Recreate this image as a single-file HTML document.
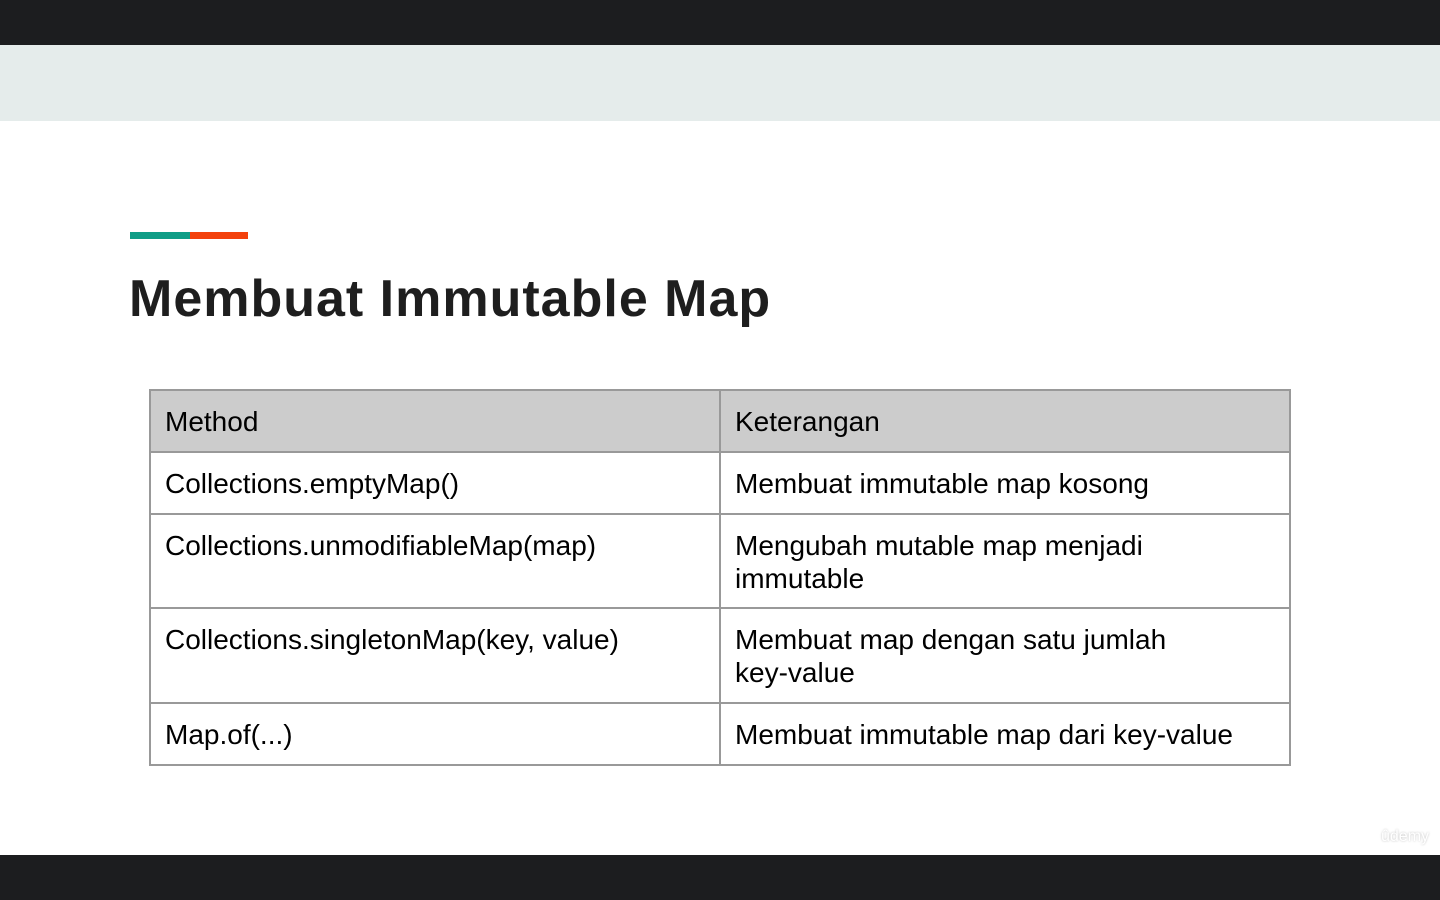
<!DOCTYPE html>
<html><head><style>
body{margin:0;width:1440px;height:900px;position:relative;background:#fff;font-family:"Liberation Sans",sans-serif;overflow:hidden}
.b{position:absolute;left:0;width:1440px}
.t{position:absolute;font-size:28px;color:#000;line-height:33px}
.h{position:absolute;background:#999}
</style></head><body>
<div class="b" style="top:0;height:45px;background:#1c1d1f"></div>
<div class="b" style="top:45px;height:76px;background:#e5eceb"></div>
<div class="b" style="top:855px;height:45px;background:#1c1d1f"></div>
<div style="position:absolute;left:130px;top:232px;width:60px;height:7px;background:#0f9d86"></div>
<div style="position:absolute;left:190px;top:232px;width:58px;height:7px;background:#f3410c"></div>
<div style="position:absolute;left:129px;top:269px;font-size:52px;font-weight:bold;color:#1e1e1e;letter-spacing:1px">Membuat Immutable Map</div>
<div style="position:absolute;left:150px;top:390px;width:1140px;height:62px;background:#cccccc"></div>
<div class="h" style="left:149px;top:389px;width:1142px;height:2px"></div>
<div class="h" style="left:149px;top:451px;width:1142px;height:2px"></div>
<div class="h" style="left:149px;top:513px;width:1142px;height:2px"></div>
<div class="h" style="left:149px;top:607px;width:1142px;height:2px"></div>
<div class="h" style="left:149px;top:702px;width:1142px;height:2px"></div>
<div class="h" style="left:149px;top:764px;width:1142px;height:2px"></div>
<div class="h" style="left:149px;top:389px;width:2px;height:377px"></div>
<div class="h" style="left:719px;top:389px;width:2px;height:377px"></div>
<div class="h" style="left:1289px;top:389px;width:2px;height:377px"></div>
<div class="t" style="left:165px;top:405px">Method</div>
<div class="t" style="left:735px;top:405px">Keterangan</div>
<div class="t" style="left:165px;top:467px">Collections.emptyMap()</div>
<div class="t" style="left:735px;top:467px">Membuat immutable map kosong</div>
<div class="t" style="left:165px;top:529px">Collections.unmodifiableMap(map)</div>
<div class="t" style="left:735px;top:529px">Mengubah mutable map menjadi<br>immutable</div>
<div class="t" style="left:165px;top:623px">Collections.singletonMap(key, value)</div>
<div class="t" style="left:735px;top:623px">Membuat map dengan satu jumlah<br>key-value</div>
<div class="t" style="left:165px;top:718px">Map.of(...)</div>
<div class="t" style="left:735px;top:718px">Membuat immutable map dari key-value</div>
<div style="position:absolute;left:1381px;top:828px;font-size:16px;color:#fff;text-shadow:0 0 2px #bbb">ûdemy</div>
</body></html>
